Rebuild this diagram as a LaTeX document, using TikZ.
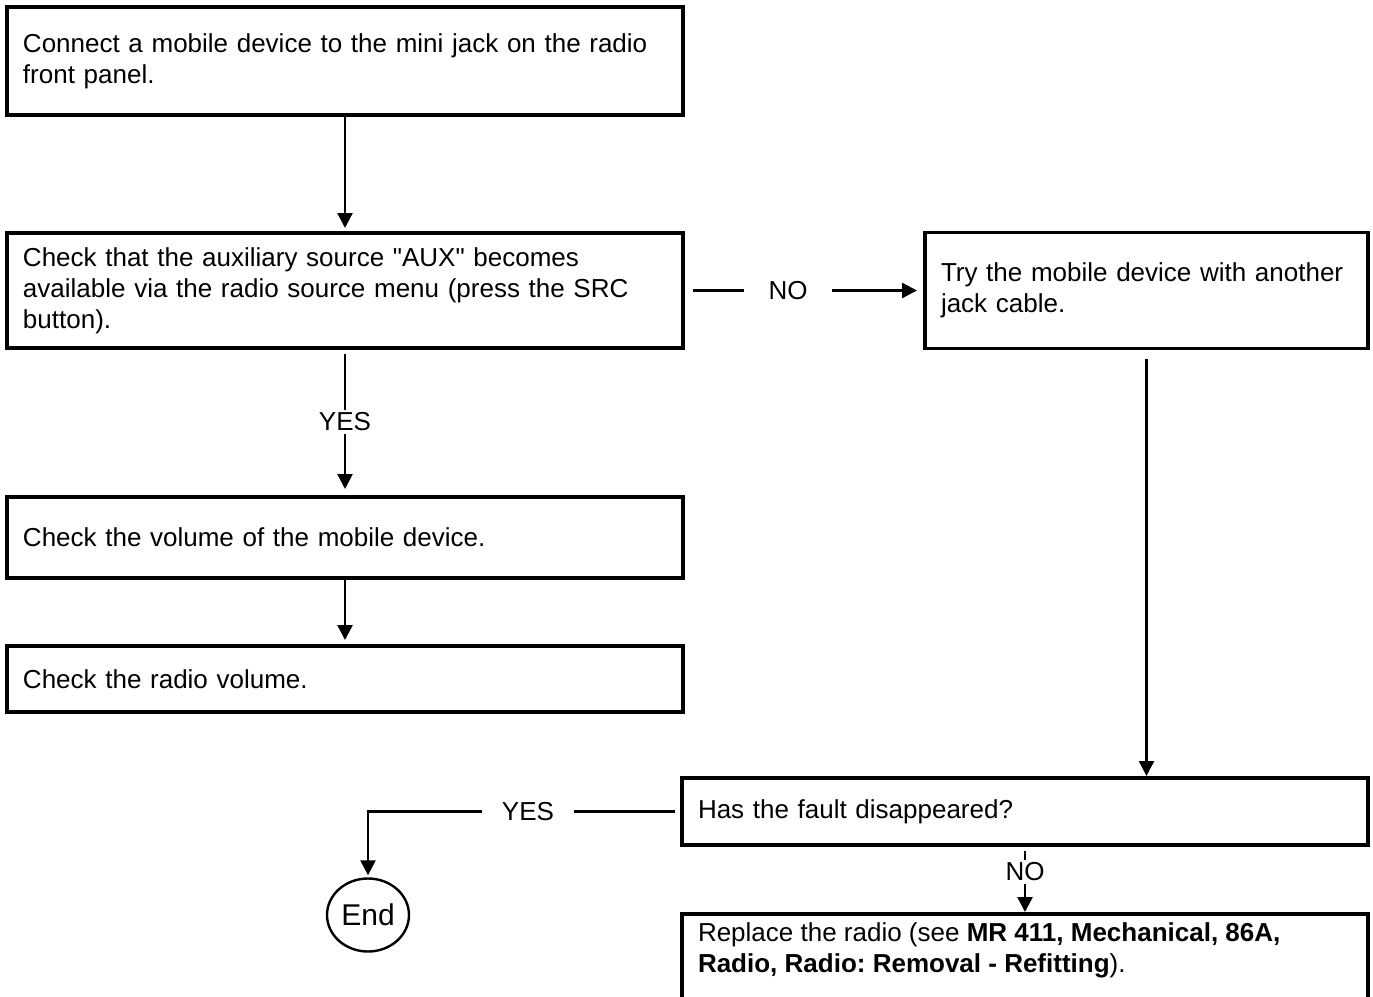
\documentclass[tikz,border=0pt]{standalone}
\usepackage{fontspec}
\setmainfont{Liberation Sans}
\usetikzlibrary{shapes.geometric, positioning, arrows.meta, calc}
\tikzset{
	every node/.style={font=\fontsize{13pt}{15.5pt}\selectfont\frenchspacing},
	link/.style={draw, line width=1.2pt},
	conn/.style={draw, line width=1.2pt, -{Triangle[length=7.5pt,width=7.5pt]}}
}

\begin{document}
\begin{tikzpicture}[x=0.5pt, y=-0.5pt,
	box/.style={draw, rectangle, line width=1.6pt, outer sep=0pt, inner xsep=8pt, align=left},
	yesno/.style={inner sep=1pt},
	yesnoh/.style={inner xsep=#1, inner ysep=1pt},
	stop/.style={draw, ellipse, line width=1.2pt, inner sep=0pt, minimum width=41pt, minimum height=36.5pt, font=\fontsize{15pt}{17pt}\selectfont}]
	\def\wide{322pt}
	\useasboundingbox (0,0) rectangle (1373,997);
	\node[box, text width=\wide, minimum height=54pt] (connect) at (345,61) {Connect a mobile device to the mini jack on the radio\\front panel.};
	\node[box, text width=\wide, minimum height=57.5pt] (aux) at (345,290.5) {Check that the auxiliary source \textquotedbl AUX\textquotedbl{} becomes\\available via the radio source menu (press the SRC\\button).};
	\node[box, text width=205.5pt, minimum height=58pt] (cable) at (1146.5,290.5) {Try the mobile device with another\\jack cable.};
	\node[box, text width=\wide, minimum height=40.5pt] (volmob) at (345,537.5) {Check the volume of the mobile device.};
	\node[box, text width=\wide, minimum height=33pt] (volrad) at (345,679) {Check the radio volume.};
	\node[box, text width=327pt, minimum height=33.5pt] (fault) at (1025,811.5) {Has the fault disappeared?};
	\node[box, anchor=north west, inner ysep=4.5pt, text depth=40pt] (replace) at (682,914) {\parbox[t]{327pt}{\raggedright Replace the radio (see \textbf{MR 411, Mechanical, 86A,}\\\textbf{Radio, Radio: Removal - Refitting}).}};
	\node[stop] (end) at (368,915) {End};
	\node[yesno] (yesA) at (345,422) {YES};
	\node[yesnoh=12pt] (noA) at (788,290.5) {NO};
	\node[yesnoh=10pt] (yesB) at (528,811.5) {YES};
	\node[yesno] (noB) at (1025,872) {NO};
	\draw[conn, shorten >=2.5pt] (connect) -- (aux);
	\draw[link, shorten <=3pt] (aux) -- (yesA);
	\draw[conn, shorten >=4pt] (yesA) -- (volmob);
	\draw[conn, shorten >=3pt] (volmob) -- (volrad);
	\draw[link, shorten <=5pt] (aux) -- (noA);
	\draw[conn, shorten >=4pt] (noA) -- (cable);
	\draw[conn, shorten <=5pt, shorten >=1pt] (cable.south) -- (cable.south |- fault.north);
	\draw[link, shorten <=3.5pt] (fault) -- (yesB);
	\draw[conn, shorten >=1pt] (yesB) -| (end);
	\draw[link, shorten <=3pt] (fault) -- (noB);
	\draw[conn, shorten >=1pt] (noB) -- (replace);
\end{tikzpicture}
\end{document}
